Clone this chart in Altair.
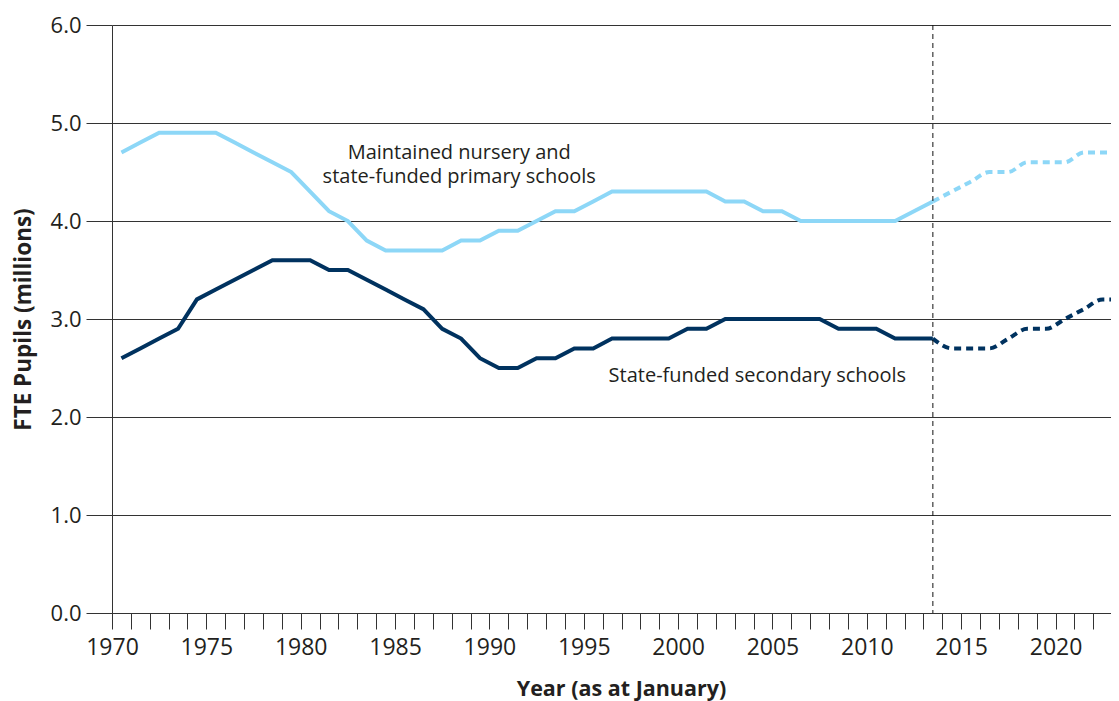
import altair as alt
import pandas as pd

# ---- data ----
years_actual = list(range(1970, 2014))
primary_actual = [4.7, 4.8, 4.9, 4.9, 4.9, 4.9, 4.8, 4.7, 4.6, 4.5,
                  4.3, 4.1, 4.0, 3.8, 3.7, 3.7, 3.7, 3.7, 3.8, 3.8,
                  3.9, 3.9, 4.0, 4.1, 4.1, 4.2, 4.3, 4.3, 4.3, 4.3,
                  4.3, 4.3, 4.2, 4.2, 4.1, 4.1, 4.0, 4.0, 4.0, 4.0,
                  4.0, 4.0, 4.1, 4.2]
secondary_actual = [2.6, 2.7, 2.8, 2.9, 3.2, 3.3, 3.4, 3.5, 3.6, 3.6,
                    3.6, 3.5, 3.5, 3.4, 3.3, 3.2, 3.1, 2.9, 2.8, 2.6,
                    2.5, 2.5, 2.6, 2.6, 2.7, 2.7, 2.8, 2.8, 2.8, 2.8,
                    2.9, 2.9, 3.0, 3.0, 3.0, 3.0, 3.0, 3.0, 2.9, 2.9,
                    2.9, 2.8, 2.8, 2.8]
years_proj = list(range(2013, 2024))
primary_proj = [4.2, 4.3, 4.4, 4.5, 4.5, 4.6, 4.6, 4.6, 4.7, 4.7, 4.7]
secondary_proj = [2.8, 2.7, 2.7, 2.7, 2.8, 2.9, 2.9, 3.0, 3.1, 3.2, 3.2]

series_names = ["Primary", "Secondary"]
series_colors = ["#8DD7F7", "#00325F"]

x_tick_years = list(range(1970, 2024))
y_tick_values = [0, 1, 2, 3, 4, 5, 6]
projection_start = [2013]

ann_text = ["Maintained nursery and\nstate-funded primary schools",
            "State-funded secondary schools"]
ann_year = [1988.4, 2004.2]
ann_value = [4.69, 2.42]

FONT = "Open Sans"
INK = "#231F20"

rows = []
for y, p, s in zip(years_actual, primary_actual, secondary_actual):
    rows.append({"year": y, "value": p, "series": "Primary", "phase": "actual"})
    rows.append({"year": y, "value": s, "series": "Secondary", "phase": "actual"})
for y, p, s in zip(years_proj, primary_proj, secondary_proj):
    rows.append({"year": y, "value": p, "series": "Primary", "phase": "proj"})
    rows.append({"year": y, "value": s, "series": "Secondary", "phase": "proj"})
df = pd.DataFrame(rows)

xscale = alt.Scale(domain=[1970, 2022.94], nice=False, zero=False)
yscale = alt.Scale(domain=[0, 6], nice=False)
cscale = alt.Scale(domain=series_names, range=series_colors)

x_axis = alt.Axis(
    values=x_tick_years,
    tickCount=200,
    labelExpr="datum.value % 5 === 0 ? datum.value : ''",
    format="d",
    grid=False,
    tickSize=16,
    tickColor="#333333",
    domainColor="#333333",
    labelFont=FONT,
    labelFontSize=23,
    labelColor=INK,
    labelPadding=7,
    labelOverlap=False,
    labelFlush=False,
    title="Year (as at January)",
    titleFont=FONT,
    titleFontSize=21.5,
    titleFontWeight="bold",
    titleColor=INK,
    titleX=509,
    titleY=82,
    titleAlign="center",
    titleBaseline="alphabetic",
)
y_axis = alt.Axis(
    values=y_tick_values,
    tickCount=20,
    format=".1f",
    grid=True,
    gridColor="#333333",
    tickSize=26,
    tickColor="#333333",
    domainColor="#333333",
    labelFont=FONT,
    labelFontSize=22,
    labelColor=INK,
    labelPadding=5,
    title="FTE Pupils (millions)",
    titleFont=FONT,
    titleFontSize=22.5,
    titleFontWeight="bold",
    titleColor=INK,
    titleX=-89,
    titleY=294,
    titleAngle=270,
    titleBaseline="middle",
    titleAlign="center",
)

base = alt.Chart(df).transform_calculate(xpos="datum.year + 0.5")

actual = base.transform_filter("datum.phase === 'actual'").mark_line(
    strokeWidth=4, clip=True, strokeJoin="miter"
).encode(
    x=alt.X("xpos:Q", scale=xscale, axis=x_axis),
    y=alt.Y("value:Q", scale=yscale, axis=y_axis),
    color=alt.Color("series:N", scale=cscale, legend=None),
)

proj = base.transform_filter("datum.phase === 'proj'").mark_line(
    strokeWidth=4, clip=True, strokeDash=[7, 5], interpolate="monotone"
).encode(
    x=alt.X("xpos:Q", scale=xscale),
    y=alt.Y("value:Q", scale=yscale),
    color=alt.Color("series:N", scale=cscale, legend=None),
)

rule = alt.Chart(pd.DataFrame({"year": projection_start})).transform_calculate(
    xpos="datum.year + 0.5"
).mark_rule(color="#111111", strokeWidth=1, strokeDash=[5, 4]).encode(
    x=alt.X("xpos:Q", scale=xscale),
    y=alt.value(0),
    y2=alt.value(588),
)

ann = alt.Chart(pd.DataFrame({"year": ann_year, "value": ann_value, "text": ann_text})).mark_text(
    font=FONT, fontSize=20, color=INK, align="center", baseline="middle",
    lineBreak="\n", lineHeight=24
).encode(
    x=alt.X("year:Q", scale=xscale),
    y=alt.Y("value:Q", scale=yscale),
    text="text:N",
)

chart = alt.layer(actual, proj, rule, ann).properties(
    width=999,
    height=588,
    autosize="none",
    padding={"left": 104, "top": 17, "right": 0, "bottom": 88},
).configure_view(strokeWidth=0)

chart.save("out.html", embed_options={"renderer": "svg", "actions": False})
